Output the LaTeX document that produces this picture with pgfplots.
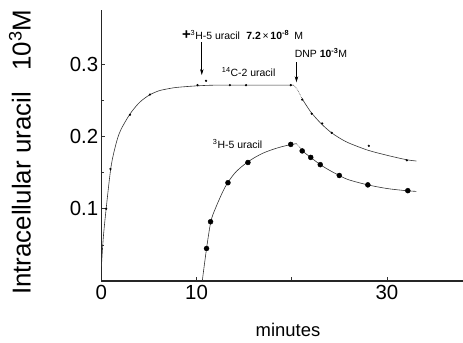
\documentclass[border=0pt]{standalone}
\usepackage{pgfplots}
\pgfplotsset{compat=1.18}
\usepackage{fontspec}
\setmainfont{Liberation Sans}
\usetikzlibrary{arrows.meta}
\begin{document}
\begin{tikzpicture}
\path[use as bounding box] (-101.4bp,-62bp) rectangle (361.6bp,281bp);
\begin{axis}[
  at={(0,0)}, anchor=south west,
  scale only axis, width=361.6bp, height=271bp,
  xmin=0, xmax=38, ymin=0, ymax=0.375,
  axis x line=bottom, axis y line=left,
  axis line style={-, line width=1.3pt, black!85},
  tick align=inside,
  xtick={0,10,20,30}, xticklabels={0,10,,30},
  ytick={0.1,0.2,0.3}, yticklabels={0.1,0.2,0.3},
  minor ytick={0.05,0.15,0.25},
  major tick length=4bp, minor tick length=3bp,
  tick style={black!80, line width=0.6pt},
  tick label style={font=\fontsize{20.5}{22}\selectfont, inner sep=3bp},
  xticklabel style={inner sep=4bp},
  xlabel={minutes},
  xlabel style={at={(axis description cs:0.516,-0.181)}, anchor=center, font=\fontsize{18.5}{20}\selectfont},
  ylabel={Intracellular uracil\hspace{0.55em} 10\textsuperscript{3}M},
  ylabel style={at={(axis description cs:-0.225,0.475)}, anchor=center, rotate=0, font=\fontsize{26}{28}\selectfont},
  clip=false,
]
% 14C-2 uracil curve
\addplot[smooth, black!80, line width=0.6pt] coordinates {
 (0,0.02) (0.2,0.06) (0.5,0.10) (1,0.157) (1.5,0.188) (2,0.208) (3,0.231)
 (4,0.247) (5,0.257) (6,0.263) (7,0.266) (8,0.268) (10,0.270) (12,0.271) (16,0.271) (20.2,0.271)};
\addplot[densely dotted, black!80, line width=0.6pt] coordinates {(20.2,0.271) (20.6,0.265) (21.1,0.252)};
\addplot[smooth, black!80, line width=0.6pt] coordinates {
 (21.1,0.252) (22,0.234) (23,0.219) (24,0.207) (25,0.198) (26,0.191) (28,0.181) (30,0.174) (32,0.168) (33.1,0.166)};
\addplot[only marks, mark=*, mark size=0.9pt, black] coordinates {
 (0.5,0.10) (0.95,0.155) (3,0.23) (5.1,0.258) (10.1,0.271) (11,0.277) (13.5,0.271)
 (15.2,0.271) (19.9,0.271) (21.1,0.251) (22.1,0.2315) (23.2,0.218) (24.2,0.205) (28.1,0.187) (32.1,0.167)};
% 3H-5 uracil curve
\addplot[smooth, black!80, line width=0.6pt] coordinates {
 (10.6,0) (11.05,0.045) (11.5,0.082) (12,0.101) (13,0.130) (14,0.149) (15,0.161)
 (16,0.170) (17,0.177) (18,0.182) (19,0.186) (20,0.189) (20.5,0.190)};
\addplot[densely dotted, black!80, line width=0.6pt] coordinates {(20.5,0.190) (20.8,0.186) (21.1,0.180)};
\addplot[smooth, black!80, line width=0.6pt] coordinates {
 (21.1,0.180) (22,0.171) (23,0.161) (24,0.153) (25,0.146) (26,0.140) (28,0.133) (30,0.128) (32,0.125) (33.1,0.124)};
\addplot[only marks, mark=*, mark size=2.5pt, black] coordinates {
 (11.05,0.045) (11.47,0.082) (13.3,0.136) (15.4,0.164) (19.9,0.189) (21.1,0.180)
 (22.0,0.171) (23.0,0.161) (25.0,0.146) (28.0,0.133) (32.2,0.125)};
% annotations
\node[anchor=west, inner sep=0pt, font=\fontsize{10.5}{12}\selectfont] at (axis cs:8.45,0.341)
 {{\fontsize{15}{15}\selectfont\textbf{+}}\textsuperscript{3}H-5 uracil\hspace{0.6em}\textbf{7.2}\,×\,\textbf{10\textsuperscript{-8}}\hspace{0.5em}M};
\draw[-{Stealth[length=6bp,width=3.5bp]}, line width=0.6pt] (axis cs:10.55,0.331) -- (axis cs:10.55,0.285);
\node[anchor=west, inner sep=0pt, font=\fontsize{10.5}{12}\selectfont] at (axis cs:20.3,0.316)
 {DNP \textbf{10\textsuperscript{-3}}M};
\draw[-{Stealth[length=6bp,width=3.5bp]}, line width=0.6pt] (axis cs:20.5,0.303) -- (axis cs:20.5,0.275);
\node[anchor=west, inner sep=0pt, font=\fontsize{10.5}{12}\selectfont] at (axis cs:12.65,0.289)
 {\textsuperscript{14}C-2 uracil};
\node[anchor=west, inner sep=0pt, font=\fontsize{10.5}{12}\selectfont] at (axis cs:11.7,0.190)
 {\textsuperscript{3}H-5 uracil};
\end{axis}
\end{tikzpicture}
\end{document}
